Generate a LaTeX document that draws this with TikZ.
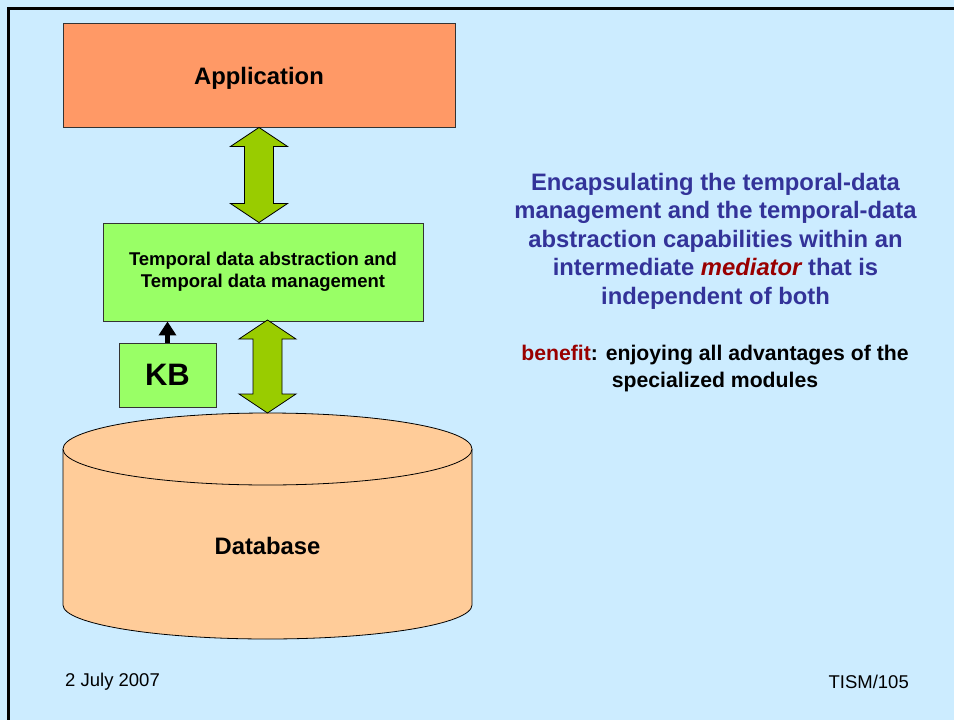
\documentclass[tikz,border=0pt]{standalone}
\usepackage{fontspec}
\setmainfont{Liberation Sans}
\usetikzlibrary{calc,arrows.meta}
\definecolor{bgblue}{HTML}{CCECFF}
\definecolor{appfill}{HTML}{FF9966}
\definecolor{tdmfill}{HTML}{99FF66}
\definecolor{arrfill}{HTML}{99CC00}
\definecolor{dbfill}{HTML}{FFCC99}
\definecolor{txtblue}{HTML}{333399}
\definecolor{txtred}{HTML}{990000}
\newcommand\dblarr[2]{%
  \draw[dblarrow] let \p1=(#1), \p2=(#2) in
    (\x1,\y1) -- (\x1+28.5pt,\y1-19pt) -- (\x1+14.5pt,\y1-19pt) --
    (\x1+14.5pt,\y2+19pt) -- (\x1+28.5pt,\y2+19pt) -- (\x1,\y2) --
    (\x1-28.5pt,\y2+19pt) -- (\x1-14.5pt,\y2+19pt) --
    (\x1-14.5pt,\y1-19pt) -- (\x1-28.5pt,\y1-19pt) -- cycle;}
\begin{document}
\begin{tikzpicture}[x=1pt,y=-1pt,
  box/.style={draw=black!80, line width=0.9pt, inner sep=0pt, align=center},
  dblarrow/.style={draw=black, line width=0.8pt, fill=arrfill, line join=miter},
  big/.style={font=\bfseries\fontsize{23.8}{28.5}\selectfont},
  mid/.style={font=\bfseries\fontsize{18.5}{22}\selectfont},
  foot/.style={font=\fontsize{18.5}{22}\selectfont}]
\useasboundingbox (0,0) rectangle (954,720);
\fill[bgblue] (0,0) rectangle (954,720);
\draw[line width=3pt, line cap=rect] (8,720) -- (8,8) -- (954,8);
% Application
\node[box, fill=appfill, minimum width=392pt, minimum height=104pt] (app) at (259,75) {};
\node[big] (apptext) at (259,78) {Application};
% Temporal data box
\node[box, fill=tdmfill, minimum width=320pt, minimum height=98pt, mid] (tdm) at (263,272) {Temporal data abstraction and\\Temporal data management};
% KB
\node[box, fill=tdmfill, minimum width=97pt, minimum height=64pt, font=\bfseries\fontsize{31}{36}\selectfont] (kb) at (167.5,375) {KB};
% Database cylinder
\draw[fill=dbfill, line width=0.8pt] (63,449) -- (63,605) arc[start angle=180, end angle=360, x radius=204.5, y radius=-34] -- (472,449);
\draw[fill=dbfill, line width=0.8pt] (267.5,449) ellipse[x radius=204.5, y radius=36];
\coordinate (dbtop) at (267.5,413);
\node[big] (db) at (267.5,546) {Database};
% arrows
\dblarr{app.south}{app.south |- tdm.north}
\coordinate (arrB) at (267.5,320);
\dblarr{arrB}{dbtop}
\draw[line width=5pt, -{Triangle[width=17pt,length=14pt]}] (kb.north) -- (kb.north |- tdm.south);
% right text
\node[big, text=txtblue, align=center] (enc) at (715.5,241) {Encapsulating the temporal-data\\management and the temporal-data\\abstraction capabilities within an\\intermediate \textcolor{txtred}{\itshape mediator} that is\\independent of both};
\node[align=center, font=\bfseries\fontsize{21.2}{26.5}\selectfont] (ben) at (715,368.5) {\textcolor{txtred}{benefit}: enjoying all advantages of the\\specialized modules};
% footer
\node[foot, anchor=west, inner sep=0pt] (date) at (65,682) {2 July 2007};
\node[foot, anchor=east, inner sep=0pt] (page) at (909,682) {TISM/105};
\end{tikzpicture}
\end{document}
